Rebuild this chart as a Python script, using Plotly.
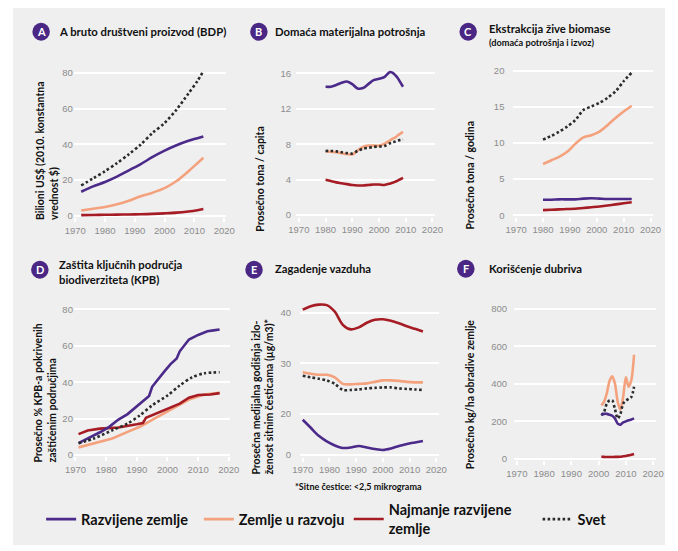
import plotly.graph_objects as go

W, H = 678, 551

# ---------------- DATA ----------------
series_names = ["Razvijene zemlje", "Zemlje u razvoju", "Najmanje razvijene<br>zemlje", "Svet"]

# A: GDP (trillion US$, 2010 constant)
gdp_years = [1972, 1976, 1980, 1984, 1988, 1992, 1996, 2000, 2004, 2008, 2011, 2013]
gdp_developed = [13.5, 16.5, 19, 22, 25.5, 29, 33, 36.5, 39.5, 42, 43.5, 44.5]
gdp_developing = [3, 4, 5, 6.5, 8.5, 11, 13, 15.5, 19.5, 25, 29.5, 32.5]
gdp_least = [0.4, 0.5, 0.6, 0.7, 0.8, 0.9, 1.1, 1.4, 1.8, 2.5, 3.2, 3.8]
gdp_world = [17, 21, 25, 29.5, 34.5, 40, 46.5, 52, 59.5, 68.5, 75.5, 81]

# B: Domestic material consumption (t / capita)
dmc_years = [1980, 1982, 1984, 1986, 1988, 1990, 1992, 1994, 1996, 1998, 2000, 2002, 2004, 2005, 2006, 2007, 2008, 2009]
dmc_developed = [14.5, 14.5, 14.7, 14.95, 15.1, 14.8, 14.3, 14.35, 14.8, 15.25, 15.4, 15.6, 16.15, 16.1, 15.85, 15.5, 15.0, 14.5]
dmc_developing = [7.2, 7.15, 7.1, 7.0, 6.9, 6.85, 7.3, 7.7, 7.85, 7.85, 7.85, 8.05, 8.4, 8.6, 8.75, 9.0, 9.2, 9.4]
dmc_least = [4.0, 3.85, 3.7, 3.6, 3.5, 3.4, 3.35, 3.35, 3.4, 3.45, 3.45, 3.4, 3.55, 3.65, 3.75, 3.9, 4.05, 4.2]
dmc_world = [7.25, 7.25, 7.2, 7.1, 7.0, 6.95, 7.25, 7.5, 7.6, 7.7, 7.75, 7.8, 8.1, 8.2, 8.3, 8.4, 8.5, 8.55]

# C: Biomass extraction (t / year)
bio_years = [1980, 1983, 1986, 1989, 1992, 1995, 1998, 2001, 2004, 2007, 2010, 2013]
bio_developed = [2.15, 2.15, 2.2, 2.2, 2.2, 2.3, 2.35, 2.3, 2.25, 2.25, 2.25, 2.25]
bio_developing = [7.1, 7.6, 8.1, 8.8, 9.9, 10.8, 11.1, 11.6, 12.5, 13.5, 14.4, 15.2]
bio_least = [0.7, 0.75, 0.8, 0.85, 0.9, 1.0, 1.1, 1.2, 1.35, 1.5, 1.65, 1.8]
bio_world = [10.5, 11.0, 11.6, 12.3, 13.2, 14.6, 15.1, 15.6, 16.3, 17.2, 18.6, 19.8]

# D: Protected key biodiversity areas (%)
kba_dev_years = [1971, 1974, 1978, 1981, 1984, 1987, 1990, 1993, 1994, 1995, 1997, 1999, 2001, 2003, 2004, 2006, 2007, 2010, 2013, 2015, 2017]
kba_developed = [6.5, 9, 12.5, 15.5, 19.5, 22.5, 27, 31, 32.5, 37.5, 42, 46, 50, 53, 57, 61, 63.5, 66, 68, 68.5, 69]
kba_devg_years = [1971, 1976, 1982, 1987, 1991, 1995, 1999, 2003, 2007, 2012, 2017]
kba_developing = [4.2, 6.4, 9.1, 12.7, 15.5, 19.3, 23, 26.4, 30.5, 33.2, 34.2]
kba_ldc_years = [1971, 1974, 1978, 1984, 1990, 1992, 1993, 1996, 2000, 2004, 2007, 2010, 2014, 2017]
kba_least = [11.5, 13.5, 14.5, 15.1, 16.9, 17.6, 20.5, 22.7, 25.3, 28.2, 31.5, 33, 33.3, 34]
kba_world_years = [1971, 1976, 1982, 1987, 1991, 1995, 2000, 2004, 2008, 2012, 2017]
kba_world = [6.4, 9.1, 13.6, 17.3, 21.8, 27.3, 32.7, 38.2, 42.7, 44.9, 45.5]

# E: Air pollution, PM2.5 (ug/m3)
pm_years = [1970, 1973, 1976, 1979, 1982, 1985, 1988, 1991, 1994, 1997, 2000, 2003, 2006, 2009, 2012, 2015]
pm_developed = [18.8, 17.2, 15.6, 14.5, 13.7, 13.2, 13.3, 13.6, 13.3, 13.0, 12.8, 13.1, 13.6, 14.0, 14.3, 14.6]
pm_developing = [28.2, 27.9, 27.7, 27.7, 27.2, 25.9, 25.8, 25.9, 26.0, 26.3, 26.6, 26.6, 26.5, 26.3, 26.2, 26.2]
pm_least = [40.6, 41.3, 41.6, 41.5, 40.2, 37.6, 36.7, 37.1, 38.0, 38.6, 38.7, 38.4, 37.9, 37.3, 36.8, 36.3]
pm_world = [27.5, 27.2, 26.9, 26.6, 25.9, 24.7, 24.7, 24.8, 25.0, 25.1, 25.2, 25.2, 25.0, 24.9, 24.8, 24.7]

# F: Fertilizer use (kg / ha arable land)
fert_years = [2001, 2002, 2003, 2004, 2005, 2006, 2007, 2008, 2009, 2010, 2011, 2012, 2013]
fert_developed = [235, 240, 240, 235, 230, 215, 188, 182, 195, 200, 206, 210, 216]
fert_developing = [285, 305, 350, 415, 440, 400, 305, 262, 330, 435, 385, 420, 555]
fert_least = [12, 11, 10, 10, 10, 11, 11, 12, 14, 16, 19, 22, 26]
fert_world = [232, 250, 295, 312, 312, 265, 215, 240, 295, 310, 320, 330, 385]

year_ticks = [1970, 1980, 1990, 2000, 2010, 2020]

# ---------------- STYLE ----------------
C_DEV = "#4b2a8a"
C_DEVG = "#f4a27e"
C_LDC = "#a51c24"
C_WORLD = "#2b2b2b"
C_BADGE = "#4a2784"
BG = "#efefef"
TICK_FONT = dict(family="Liberation Sans, Arial, sans-serif", size=9.5, color="#8c8c8c")
TITLE_FONT = dict(family="Lato, sans-serif", size=11.3, color="#111111", weight=700)
YT_FONT = dict(family="Lato, sans-serif", size=10.5, color="#111111", weight=700)


def fx(p):
    return p / W


def fy(p):
    return 1 - p / H


# panel geometry in pixels: (x_left, x_right, y_top, y_bottom), x range, y range, yticks, yticktext, standoff
panels = [
    dict(px=(66.5, 222.6, 66.3, 218.9), xr=[1969.5, 2020.5], yr=[-0.8, 84],
         tv=[0, 20, 40, 60, 80], tt=None, so=0),
    dict(px=(295.0, 437.7, 65.1, 218.2), xr=[1969, 2021], yr=[-0.17, 17],
         tv=[0, 4, 8, 12, 16], tt=None, so=4),
    dict(px=(518.2, 661.8, 60.8, 218.2), xr=[1969, 2021], yr=[-0.2, 21.5],
         tv=[0, 5, 10, 15, 20], tt=None, so=8),
    dict(px=(66.7, 227.4, 304.4, 459.8), xr=[1969.5, 2020.5], yr=[-0.8, 84],
         tv=[0, 20, 40, 60, 80], tt=None, so=0),
    dict(px=(299.0, 441.7, 303.3, 459.9), xr=[1969, 2021], yr=[11.5, 42.3],
         tv=[11.8, 20, 30, 40], tt=["0", "20", "30", "40"], so=8),
    dict(px=(518.9, 664.5, 299.7, 463.8), xr=[1969, 2021], yr=[-8, 860],
         tv=[0, 200, 400, 600, 800], tt=None, so=6),
]

fig = go.Figure()


def axid(i):
    return ("x", "y") if i == 1 else (f"x{i}", f"y{i}")


def add_line(i, x, y, color, name, dash="solid", shape="spline", legend=None):
    xa, ya = axid(i)
    fig.add_trace(go.Scatter(
        x=x, y=y, mode="lines", name=name, xaxis=xa, yaxis=ya,
        line=dict(color=color, width=2.6, dash=dash, shape=shape,
                  smoothing=0.8 if shape == "spline" else None),
        showlegend=legend is not None, legend=legend if legend else "legend",
        hoverinfo="skip"))


DOT = "2.6px,2.4px"

# A
add_line(1, gdp_years, gdp_developed, C_DEV, series_names[0], legend="legend")
add_line(1, gdp_years, gdp_developing, C_DEVG, series_names[1], legend="legend2")
add_line(1, gdp_years, gdp_least, C_LDC, series_names[2], legend="legend3")
add_line(1, gdp_years, gdp_world, C_WORLD, series_names[3], dash=DOT, legend="legend4")
# B
add_line(2, dmc_years, dmc_developed, C_DEV, series_names[0])
add_line(2, dmc_years, dmc_developing, C_DEVG, series_names[1])
add_line(2, dmc_years, dmc_least, C_LDC, series_names[2])
add_line(2, dmc_years, dmc_world, C_WORLD, series_names[3], dash=DOT)
# C
add_line(3, bio_years, bio_developed, C_DEV, series_names[0])
add_line(3, bio_years, bio_developing, C_DEVG, series_names[1])
add_line(3, bio_years, bio_least, C_LDC, series_names[2])
add_line(3, bio_years, bio_world, C_WORLD, series_names[3], dash=DOT)
# D
add_line(4, kba_devg_years, kba_developing, C_DEVG, series_names[1], shape="linear")
add_line(4, kba_ldc_years, kba_least, C_LDC, series_names[2], shape="linear")
add_line(4, kba_dev_years, kba_developed, C_DEV, series_names[0], shape="linear")
add_line(4, kba_world_years, kba_world, C_WORLD, series_names[3], dash=DOT)
# E
add_line(5, pm_years, pm_developed, C_DEV, series_names[0])
add_line(5, pm_years, pm_developing, C_DEVG, series_names[1])
add_line(5, pm_years, pm_least, C_LDC, series_names[2])
add_line(5, pm_years, pm_world, C_WORLD, series_names[3], dash=DOT)
# F
add_line(6, fert_years, fert_developing, C_DEVG, series_names[1])
add_line(6, fert_years, fert_world, C_WORLD, series_names[3], dash=DOT)
add_line(6, fert_years, fert_developed, C_DEV, series_names[0])
add_line(6, fert_years, fert_least, C_LDC, series_names[2])

layout = dict(
    width=W, height=H, margin=dict(l=0, r=0, t=0, b=0),
    paper_bgcolor="white", plot_bgcolor=BG,
    showlegend=True, hovermode=False,
)

for k, p in enumerate(panels, start=1):
    xl, xr_, yt, yb = p["px"]
    sfx = "" if k == 1 else str(k)
    layout["xaxis" + sfx] = dict(
        domain=[fx(xl), fx(xr_)], range=p["xr"], tickvals=year_ticks,
        showgrid=False, zeroline=False, showline=False,
        ticks="outside", ticklen=4, tickcolor="white", tickwidth=1.5,
        tickfont=TICK_FONT, anchor="y" + sfx, fixedrange=True)
    ya = dict(
        domain=[fy(yb), fy(yt)], range=p["yr"], tickvals=p["tv"],
        showgrid=True, gridcolor="white", gridwidth=1.5, zeroline=False, showline=False,
        ticks="", tickfont=TICK_FONT, anchor="x" + sfx, ticklabelstandoff=p["so"], fixedrange=True)
    if p["tt"]:
        ya["ticktext"] = p["tt"]
    layout["yaxis" + sfx] = ya

leg_common = dict(orientation="h", yanchor="middle", y=fy(523), xanchor="left",
                  bgcolor="rgba(0,0,0,0)", itemwidth=30,
                  font=dict(family="Lato, sans-serif", size=14.5, color="#111111", weight=700))
layout["legend"] = dict(leg_common, x=fx(33))
layout["legend2"] = dict(leg_common, x=fx(195))
layout["legend3"] = dict(leg_common, x=fx(349))
layout["legend4"] = dict(leg_common, x=fx(543))

fig.update_layout(**layout)

# background panel
shapes = [dict(type="rect", xref="paper", yref="paper", x0=fx(4), x1=fx(674), y0=fy(549), y1=fy(8),
               fillcolor=BG, line=dict(width=0), layer="below")]

annotations = []

badges = [("A", 33, 32), ("B", 256.7, 32), ("C", 471.7, 32), ("D", 31.7, 271.7), ("E", 251.7, 271.7), ("F", 469.3, 270.7)]
for letter, cx, cy in badges:
    r = 9
    shapes.append(dict(type="circle", xref="paper", yref="paper",
                       x0=fx(cx - r), x1=fx(cx + r), y0=fy(cy + r), y1=fy(cy - r),
                       fillcolor=C_BADGE, line=dict(width=0), layer="above"))
    annotations.append(dict(text=letter, x=fx(cx), y=fy(cy), xref="paper", yref="paper",
                            xanchor="center", yanchor="middle", showarrow=False,
                            font=dict(family="Lato, sans-serif", size=11, color="white", weight=700)))

titles = [
    ("A bruto društveni proizvod (BDP)", 49, 32, 11.3),
    ("Domaća materijalna potrošnja", 270.7, 32, 11.3),
    ("Ekstrakcija žive biomase", 490.7, 28.3, 11.3),
    ("(domaća potrošnja i izvoz)", 490.7, 43.3, 9.2),
    ("Zaštita ključnih područja", 49, 266, 11.3),
    ("biodiverziteta (KPB)", 49, 281.7, 11.3),
    ("Zagadenje vazduha", 270.7, 270.7, 11.3),
    ("Korišćenje dubriva", 490.7, 270.7, 11.3),
]
for t, x, y, s in titles:
    annotations.append(dict(text=t, x=fx(x), y=fy(y), xref="paper", yref="paper",
                            xanchor="left", yanchor="middle", showarrow=False,
                            font=dict(TITLE_FONT, size=s)))

ytitles = [
    ("Bilioni US$ (2010. konstantna<br>vrednost $)", 39.2, 224),
    ("Prosečno tona / capita", 257.7, 235),
    ("Prosečno tona / godina", 473.3, 233),
    ("Prosečno % KPB-a pokrivenih<br>zaštićenim područjima", 37.5, 468),
    ("Prosečna medijalna godišnja izlo-<br>ženost sitnim česticama (µg/m3)*", 260, 480),
    ("Prosečno kg/ha obradive zemlje", 473.3, 475),
]
for t, x, yb in ytitles:
    annotations.append(dict(text=t, x=fx(x), y=fy(yb), xref="paper", yref="paper",
                            xanchor="center", yanchor="bottom", showarrow=False,
                            textangle=-90, align="left", font=YT_FONT))

annotations.append(dict(text="*Sitne čestice: <2,5 mikrograma", x=fx(291.7), y=fy(490), xref="paper", yref="paper",
                        xanchor="left", yanchor="middle", showarrow=False,
                        font=dict(family="Lato, sans-serif", size=9, color="#111111", weight=700)))

fig.update_layout(shapes=shapes, annotations=annotations)

fig.write_html("out.html", config={"displayModeBar": False},
               post_script=("document.body.style.margin='0';document.body.style.padding='0';"
                            "document.body.style.overflow='hidden';"
                            "document.documentElement.style.overflow='hidden';"))
